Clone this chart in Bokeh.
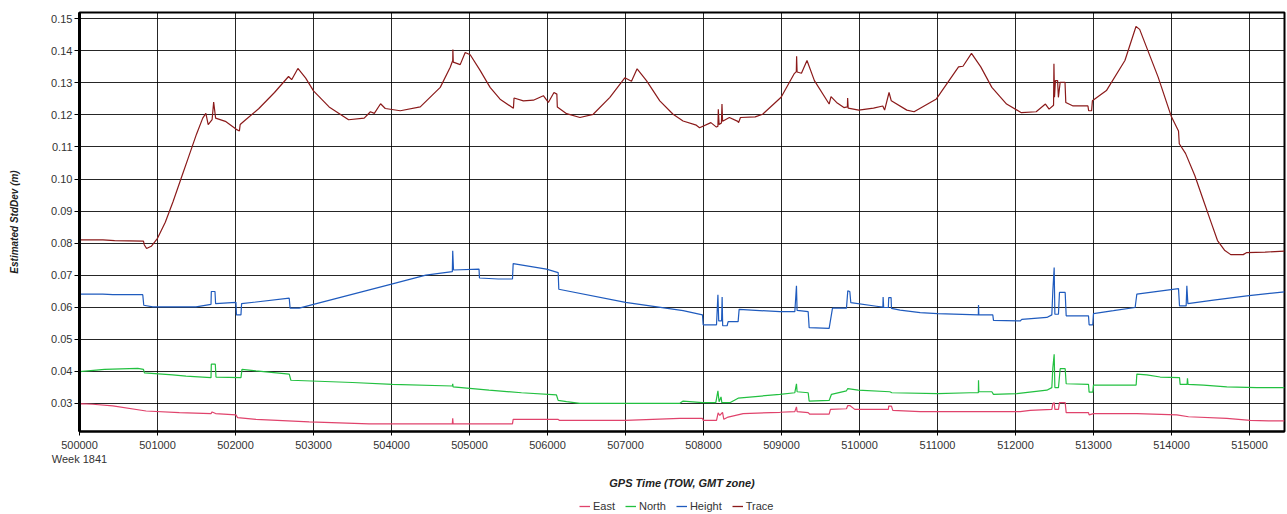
import numpy as np
from bokeh.plotting import figure
from bokeh.models import Range1d, FixedTicker, PrintfTickFormatter, Legend, LegendItem
from bokeh.layouts import column
from bokeh.embed import file_html
from bokeh.resources import INLINE

# ---------------- data (GPS time of week, estimated std dev in m) ----------------
trace_t = [500000, 500002, 500300, 500450, 500820, 500830, 500860, 500920, 501000, 501100,
           501200, 501300, 501400, 501500, 501580, 501620, 501650, 501700, 501720, 501745,
           501870, 502010, 502050, 502060, 502130, 502300, 502500, 502680, 502720, 502800,
           502900, 503000, 503200, 503450, 503650, 503730, 503780, 503860, 503920, 504113,
           504369, 504625, 504753, 504785, 504787, 504792, 504881, 504945, 505009, 505136,
           505264, 505392, 505563, 505571, 505691, 505819, 505947, 506011, 506083, 506120,
           506126, 506245, 506416, 506586, 506800, 506991, 507077, 507149, 507269, 507440,
           507610, 507738, 507908, 507950, 508095, 508166, 508185, 508190, 508200, 508230,
           508237, 508245, 508332, 508440, 508450, 508474, 508663, 508758, 508995, 509161,
           509190, 509194, 509200, 509256, 509327, 509422, 509611, 509635, 509706, 509800,
           509845, 509848, 509855, 509990, 510180, 510299, 510322, 510379, 510408, 510607,
           510700, 510986, 511270, 511327, 511436, 511555, 511697, 511886, 512076, 512265,
           512384, 512431, 512488, 512493, 512500, 512512, 512540, 512550, 512573, 512635,
           512645, 512739, 512929, 512938, 512976, 512986, 513166, 513403, 513545, 513592,
           513829, 513995, 514090, 514100, 514180, 514300, 514400, 514500, 514590, 514680,
           514760, 514920, 514960, 515200, 515449]
trace_v = [0.0745, 0.0810, 0.0810, 0.0808, 0.0806, 0.0795, 0.0783, 0.0790, 0.0815, 0.0865,
           0.0930, 0.1000, 0.1070, 0.1140, 0.1190, 0.1205, 0.1170, 0.1185, 0.1240, 0.1190,
           0.1180, 0.1155, 0.1150, 0.1170, 0.1185, 0.1220, 0.1270, 0.1320, 0.1310, 0.1345,
           0.1315, 0.1275, 0.1225, 0.1185, 0.1190, 0.1210, 0.1205, 0.1235, 0.1220, 0.1213,
           0.1225, 0.1286, 0.1349, 0.1370, 0.1404, 0.1365, 0.1357, 0.1395, 0.1388, 0.1339,
           0.1286, 0.1249, 0.1221, 0.1253, 0.1244, 0.1246, 0.1260, 0.1239, 0.1270, 0.1265,
           0.1225, 0.1204, 0.1192, 0.1202, 0.1255, 0.1316, 0.1305, 0.1344, 0.1307, 0.1244,
           0.1202, 0.1181, 0.1168, 0.1160, 0.1176, 0.1162, 0.1165, 0.1218, 0.1170, 0.1175,
           0.1234, 0.1180, 0.1192, 0.1180, 0.1176, 0.1192, 0.1194, 0.1202, 0.1255, 0.1328,
           0.1335, 0.1383, 0.1334, 0.1330, 0.1370, 0.1307, 0.1234, 0.1257, 0.1239, 0.1223,
           0.1225, 0.1253, 0.1221, 0.1215, 0.1221, 0.1228, 0.1215, 0.1270, 0.1244, 0.1215,
           0.1210, 0.1250, 0.1350, 0.1352, 0.1392, 0.1350, 0.1286, 0.1234, 0.1207, 0.1210,
           0.1234, 0.1218, 0.1230, 0.1360, 0.1255, 0.1307, 0.1307, 0.1255, 0.1302, 0.1302,
           0.1239, 0.1228, 0.1228, 0.1213, 0.1213, 0.1244, 0.1276, 0.1370, 0.1476, 0.1467,
           0.1318, 0.1197, 0.1150, 0.1110, 0.1080, 0.1010, 0.0940, 0.0870, 0.0808, 0.0778,
           0.0764, 0.0764, 0.0770, 0.0772, 0.0775]

height_t = [500000, 500002, 500299, 500427, 500811, 500824, 500939, 501494, 501686, 501690,
            501737, 501745, 502006, 502012, 502070, 502078, 502689, 502700, 502817, 503000,
            504000, 504440, 504780, 504785, 504795, 505122, 505128, 505368, 505551, 505560,
            505987, 506137, 506145, 507000, 507739, 507987, 507996, 508167, 508185, 508195,
            508232, 508239, 508246, 508303, 508316, 508444, 508457, 508979, 509171, 509192,
            509200, 509342, 509355, 509611, 509654, 509833, 509850, 509876, 509889, 510218,
            510300, 510303, 510310, 510370, 510375, 510405, 510410, 510521, 510778, 511000,
            511524, 511526, 511530, 511709, 511718, 512060, 512081, 512402, 512466, 512479,
            512496, 512505, 512551, 512564, 512637, 512650, 512936, 512944, 512991, 513000,
            513256, 513534, 513556, 514090, 514103, 514188, 514197, 514210, 514538, 514966,
            515449]
height_v = [0.0574, 0.0641, 0.0641, 0.0639, 0.0639, 0.0606, 0.0601, 0.0601, 0.0609, 0.0649,
            0.0649, 0.0611, 0.0615, 0.0576, 0.0576, 0.0611, 0.0628, 0.0597, 0.0597, 0.0609,
            0.0672, 0.0700, 0.0711, 0.0776, 0.0716, 0.0719, 0.0691, 0.0688, 0.0688, 0.0736,
            0.0719, 0.0708, 0.0656, 0.0615, 0.0589, 0.0576, 0.0545, 0.0545, 0.0639, 0.0557,
            0.0557, 0.0632, 0.0542, 0.0542, 0.0555, 0.0555, 0.0593, 0.0586, 0.0586, 0.0667,
            0.0590, 0.0586, 0.0536, 0.0534, 0.0597, 0.0597, 0.0651, 0.0649, 0.0614, 0.0603,
            0.0600, 0.0632, 0.0599, 0.0599, 0.0630, 0.0630, 0.0596, 0.0591, 0.0583, 0.0580,
            0.0576, 0.0607, 0.0576, 0.0576, 0.0559, 0.0557, 0.0562, 0.0568, 0.0576, 0.0651,
            0.0724, 0.0578, 0.0578, 0.0646, 0.0646, 0.0573, 0.0573, 0.0545, 0.0545, 0.0580,
            0.0589, 0.0599, 0.0641, 0.0658, 0.0604, 0.0604, 0.0667, 0.0611, 0.0622, 0.0635,
            0.0648]

north_t = [500000, 500002, 500320, 500747, 500820, 500832, 501195, 501366, 501686, 501690,
           501741, 501750, 502070, 502083, 502262, 502689, 502710, 503500, 504012, 504780,
           504785, 504790, 505250, 505667, 506115, 506137, 506244, 506415, 507697, 507739,
           507987, 508158, 508185, 508200, 508225, 508235, 508338, 508444, 508979, 509171,
           509192, 509200, 509342, 509355, 509611, 509641, 509833, 509850, 509983, 510389,
           510415, 511000, 511419, 511524, 511526, 511530, 511697, 511718, 512017, 512402,
           512466, 512479, 512496, 512505, 512551, 512573, 512637, 512650, 512936, 512944,
           512991, 513000, 513547, 513556, 513684, 513855, 514103, 514111, 514200, 514205,
           514212, 514410, 514709, 515094, 515449]
north_v = [0.0395, 0.0399, 0.0406, 0.0409, 0.0406, 0.0395, 0.0389, 0.0385, 0.0380, 0.0422,
           0.0422, 0.0382, 0.0380, 0.0406, 0.0401, 0.0391, 0.0372, 0.0365, 0.0359, 0.0354,
           0.0361, 0.0351, 0.0341, 0.0333, 0.0326, 0.0309, 0.0305, 0.0300, 0.0300, 0.0307,
           0.0302, 0.0302, 0.0339, 0.0305, 0.0320, 0.0302, 0.0302, 0.0316, 0.0328, 0.0333,
           0.0361, 0.0336, 0.0333, 0.0307, 0.0309, 0.0328, 0.0339, 0.0346, 0.0341, 0.0336,
           0.0333, 0.0330, 0.0333, 0.0333, 0.0372, 0.0336, 0.0336, 0.0328, 0.0330, 0.0341,
           0.0349, 0.0411, 0.0453, 0.0349, 0.0349, 0.0408, 0.0408, 0.0361, 0.0359, 0.0335,
           0.0335, 0.0357, 0.0357, 0.0391, 0.0389, 0.0382, 0.0380, 0.0359, 0.0359, 0.0378,
           0.0359, 0.0357, 0.0351, 0.0349, 0.0349]

east_t = [500000, 500002, 500171, 500427, 500854, 501280, 501686, 501700, 501745, 502006,
          502027, 502262, 502945, 503713, 504780, 504785, 504790, 505551, 505560, 506137,
          506150, 507000, 507697, 507987, 507996, 508167, 508188, 508209, 508244, 508261,
          508316, 508509, 508979, 509171, 509192, 509200, 509342, 509363, 509611, 509628,
          509833, 509850, 509876, 509940, 510370, 510375, 510410, 510427, 510778, 512060,
          512188, 512466, 512479, 512496, 512505, 512551, 512564, 512637, 512650, 512936,
          512944, 513000, 513556, 514068, 514218, 514709, 515009, 515244, 515449]
east_v = [0.0277, 0.0299, 0.0297, 0.0292, 0.0276, 0.0271, 0.0268, 0.0273, 0.0268, 0.0264,
          0.0255, 0.0250, 0.0242, 0.0236, 0.0236, 0.0253, 0.0236, 0.0236, 0.0250, 0.0250,
          0.0247, 0.0247, 0.0253, 0.0253, 0.0247, 0.0247, 0.0270, 0.0262, 0.0272, 0.0250,
          0.0257, 0.0268, 0.0272, 0.0274, 0.0289, 0.0274, 0.0271, 0.0266, 0.0266, 0.0281,
          0.0283, 0.0293, 0.0293, 0.0281, 0.0281, 0.0291, 0.0291, 0.0278, 0.0274, 0.0274,
          0.0278, 0.0281, 0.0299, 0.0302, 0.0281, 0.0281, 0.0302, 0.0302, 0.0271, 0.0271,
          0.0264, 0.0268, 0.0268, 0.0264, 0.0258, 0.0253, 0.0247, 0.0245, 0.0245]

x_ticks = list(range(500000, 515001, 1000))
y_ticks = [0.03, 0.04, 0.05, 0.06, 0.07, 0.08, 0.09, 0.10, 0.11, 0.12, 0.13, 0.14, 0.15]
week_label = "Week 1841"

series_names = ["East", "North", "Height", "Trace"]
series_colors = ["#E0436C", "#22C040", "#1F5BBE", "#8B1A1A"]

# ---------------- main figure ----------------
FONT = "Liberation Sans"
p = figure(width=1287, height=494, output_backend="svg", toolbar_location=None,
           x_range=Range1d(500000, 515449), y_range=Range1d(0.0212, 0.15197),
           min_border_left=79, min_border_right=3, min_border_top=12, min_border_bottom=63,
           background_fill_color="white", border_fill_color="white")

p.outline_line_color = "black"
p.outline_line_width = 2

for t, v, c in zip([east_t, north_t, height_t, trace_t],
                   [east_v, north_v, height_v, trace_v], series_colors):
    p.line(t, v, line_color=c, line_width=1.2)

p.xaxis.ticker = FixedTicker(ticks=x_ticks)
p.yaxis.ticker = FixedTicker(ticks=y_ticks)
p.xgrid.ticker = FixedTicker(ticks=x_ticks)
p.ygrid.ticker = FixedTicker(ticks=y_ticks)
p.xaxis.formatter = PrintfTickFormatter(format="%d")
p.yaxis.formatter = PrintfTickFormatter(format="%.2f")
p.xaxis.major_label_overrides = {x_ticks[0]: str(x_ticks[0]) + "\n" + week_label}

for g in (p.xgrid, p.ygrid):
    g.grid_line_color = "black"
    g.grid_line_alpha = 0.85
    g.grid_line_width = 1

for ax in (p.xaxis, p.yaxis):
    ax.axis_line_color = "black"
    ax.major_tick_line_color = "black"
    ax.minor_tick_line_color = None
    ax.major_tick_in = 0
    ax.major_label_text_font = FONT
    ax.major_label_text_font_size = "11px"
    ax.major_label_text_color = "#333333"
    ax.axis_label_text_font = FONT
    ax.axis_label_text_font_style = "bold italic"
    ax.axis_label_text_color = "#222222"

p.yaxis.axis_line_width = 3
p.xaxis.axis_line_width = 2
p.yaxis.major_tick_out = 5
p.xaxis.major_tick_out = 4
p.yaxis.major_label_standoff = 2
p.xaxis.major_label_standoff = 3
p.yaxis.axis_label = "Estimated StdDev (m)"
p.yaxis.axis_label_text_font_size = "10px"
p.yaxis.axis_label_standoff = 28
p.xaxis.axis_label = "GPS Time (TOW, GMT zone)"
p.xaxis.axis_label_text_font_size = "11px"
p.xaxis.axis_label_standoff = 9

# ---------------- legend strip below ----------------
lg = figure(width=1287, height=20, output_backend="svg", toolbar_location=None,
            x_range=Range1d(0, 1), y_range=Range1d(0, 1),
            x_axis_location=None, y_axis_location=None,
            min_border=0, min_border_left=0, min_border_right=0,
            min_border_top=0, min_border_bottom=0,
            background_fill_color="white", border_fill_color="white")
lg.grid.visible = False
lg.outline_line_color = None
legend_renderers = [lg.line([np.nan, np.nan], [np.nan, np.nan], line_color=c, line_width=1.3)
                    for c in series_colors]

legend = Legend(items=[LegendItem(label=n, renderers=[r]) for n, r in zip(series_names, legend_renderers)],
                orientation="horizontal", location=(500, 2))
legend.label_text_font = FONT
legend.label_text_font_size = "11px"
legend.label_text_color = "#333333"
legend.label_height = 12
legend.glyph_width = 11
legend.glyph_height = 10
legend.label_standoff = 3
legend.spacing = 10
legend.padding = 0
legend.margin = 0
legend.border_line_color = None
legend.background_fill_alpha = 0
lg.add_layout(legend, "center")

layout = column(p, lg, spacing=0)
open("out.html", "w").write(file_html(layout, INLINE))
